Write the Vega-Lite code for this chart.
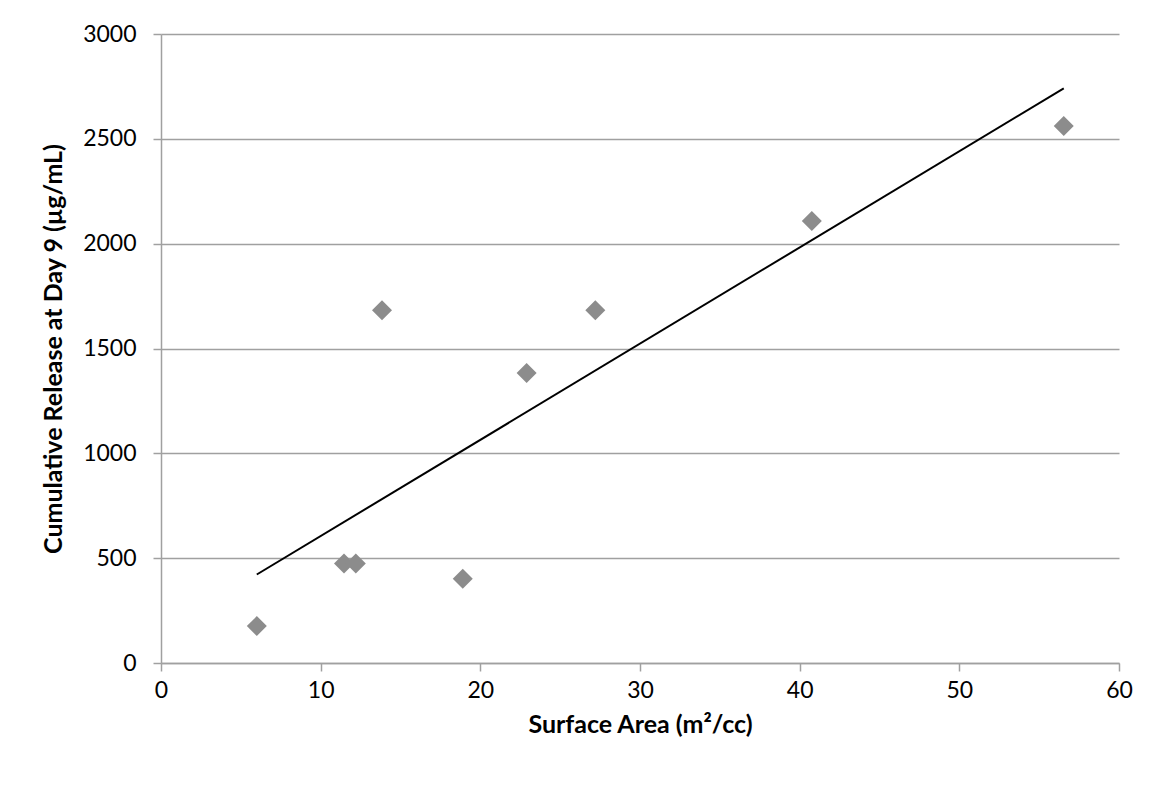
{
  "$schema": "https://vega.github.io/schema/vega-lite/v6.json",
  "width": 958,
  "height": 629,
  "autosize": {"type": "none"},
  "padding": {"left": 161, "top": 34, "right": 42, "bottom": 123},
  "background": "white",
  "config": {
    "view": {"stroke": null},
    "font": "Lato"
  },
  "data": {
    "values": [
      {"sa": 6.0, "rel": 176},
      {"sa": 11.46, "rel": 475},
      {"sa": 12.2, "rel": 475},
      {"sa": 13.84, "rel": 1683},
      {"sa": 18.9, "rel": 402},
      {"sa": 22.9, "rel": 1383},
      {"sa": 27.2, "rel": 1683},
      {"sa": 40.76, "rel": 2108},
      {"sa": 56.54, "rel": 2561}
    ]
  },
  "layer": [
    {
      "mark": {"type": "point", "shape": "diamond", "filled": true, "size": 400, "color": "#8c8c8c", "opacity": 1},
      "encoding": {
        "x": {
          "field": "sa", "type": "quantitative",
          "scale": {"domain": [0, 60], "nice": false, "zero": false},
          "axis": {
            "title": "Surface Area (m²/cc)",
            "values": [0, 10, 20, 30, 40, 50, 60],
            "format": "d",
            "labelFlush": false,
            "grid": false,
            "domainColor": "#a0a0a0", "domainWidth": 1.5,
            "tickColor": "#a0a0a0", "tickSize": 8, "tickWidth": 1.5,
            "labelFont": "Lato", "labelFontSize": 23, "labelColor": "#000000", "labelPadding": 8,
            "titleFont": "Lato", "titleFontSize": 25, "titleFontWeight": "bold", "titleColor": "#000000", "titlePadding": 10
          }
        },
        "y": {
          "field": "rel", "type": "quantitative",
          "scale": {"domain": [0, 3000], "nice": false},
          "axis": {
            "title": "Cumulative Release at Day 9 (µg/mL)",
            "values": [0, 500, 1000, 1500, 2000, 2500, 3000],
            "format": "d",
            "labelFlush": false,
            "grid": true, "gridColor": "#a0a0a0", "gridWidth": 1.5,
            "domainColor": "#a0a0a0", "domainWidth": 1.5,
            "tickColor": "#a0a0a0", "tickSize": 8, "tickWidth": 1.5,
            "labelFont": "Lato", "labelFontSize": 23, "labelColor": "#000000", "labelPadding": 17,
            "titleFont": "Lato", "titleFontSize": 25, "titleFontWeight": "bold", "titleColor": "#000000", "titlePadding": 16
          }
        }
      }
    },
    {
      "transform": [{"regression": "rel", "on": "sa"}],
      "mark": {"type": "line", "color": "#000000", "strokeWidth": 2},
      "encoding": {
        "x": {"field": "sa", "type": "quantitative"},
        "y": {"field": "rel", "type": "quantitative"}
      }
    }
  ]
}
